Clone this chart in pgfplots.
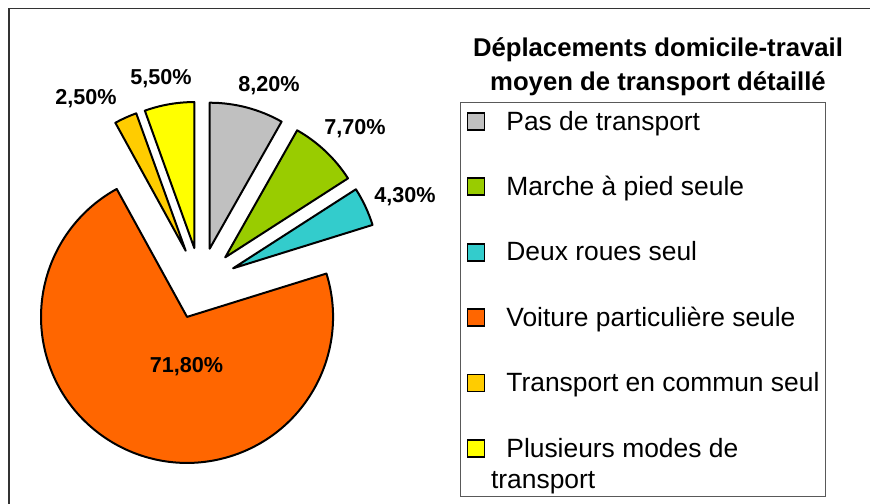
\documentclass[border=0pt]{standalone}
\usepackage{fontspec}
\setmainfont{Liberation Sans}
\usepackage{pgfplots}
\usepackage{pgfplotstable}
\pgfplotsset{compat=1.18}
\definecolor{cGray}{HTML}{C0C0C0}
\definecolor{cGreen}{HTML}{99CC00}
\definecolor{cCyan}{HTML}{33CCCC}
\definecolor{cOrange}{HTML}{FF6600}
\definecolor{cGold}{HTML}{FFCC00}
\definecolor{cYellow}{HTML}{FFFF00}
\newcommand\lblfont{\fontsize{10.8bp}{12bp}\selectfont\bfseries}
\newcommand\legfont{\fontsize{13.2bp}{15bp}\selectfont}
\newcommand\ttlfont{\fontsize{12.85bp}{15bp}\selectfont\bfseries}

% value in percent; lx, ly = label anchor (base) in pixel coordinates
\pgfplotstableread[col sep=semicolon]{
name;value;col;lx;ly
Pas de transport;8.2;cGray;269;91.5
Marche à pied seule;7.7;cGreen;355;134.5
Deux roues seul;4.3;cCyan;405;202.5
Voiture particulière seule;71.8;cOrange;186.5;372.5
Transport en commun seul;2.5;cGold;86;104.5
Plusieurs modes de transport;5.5;cYellow;161;84.5
}\piedata

\begin{document}
\begin{tikzpicture}
\useasboundingbox (0,0) rectangle (435bp,252bp);
\xdef\cum{90}
\foreach \i in {0,...,5}{%
  \pgfplotstablegetelem{\i}{value}\of\piedata
  \let\tmpval\pgfplotsretval
  \pgfmathsetmacro\tmpsw{\tmpval*3.6}
  \pgfmathsetmacro\tmpend{\cum-\tmpsw}
  \pgfmathsetmacro\tmpmid{\cum-\tmpsw/2}
  \expandafter\xdef\csname pieS\i\endcsname{\cum}
  \expandafter\xdef\csname pieE\i\endcsname{\tmpend}
  \expandafter\xdef\csname pieM\i\endcsname{\tmpmid}
  \expandafter\xdef\csname pieV\i\endcsname{\tmpval}
  \pgfplotstablegetelem{\i}{col}\of\piedata
  \expandafter\xdef\csname pieC\i\endcsname{\pgfplotsretval}
  \pgfplotstablegetelem{\i}{lx}\of\piedata
  \expandafter\xdef\csname pieX\i\endcsname{\pgfplotsretval}
  \pgfplotstablegetelem{\i}{ly}\of\piedata
  \expandafter\xdef\csname pieY\i\endcsname{\pgfplotsretval}
  \xdef\cum{\tmpend}
}
\begin{axis}[x=0.5bp, y=0.5bp, xmin=0, xmax=870, ymin=0, ymax=504,
  y dir=reverse, hide axis, clip=false, at={(0,0)}, anchor=south west]
% outer frame
\draw[line width=0.6bp, black!80] (axis cs:9,1400) -- (axis cs:9,8.3) -- (axis cs:1400,8.3);
% title
\node[font=\ttlfont, anchor=base] at (axis cs:658,56.5) {Déplacements domicile-travail};
\node[font=\ttlfont, anchor=base] at (axis cs:658,90) {moyen de transport détaillé};
% legend box
\draw[line width=0.5bp, black!65, fill=white] (axis cs:461,102.7) rectangle (axis cs:826,496.7);
% legend entries
\filldraw[fill=cGray, draw=black, line width=0.9bp] (axis cs:467.5,112.8) rectangle (axis cs:484.5,129.8);
\node[font=\legfont, anchor=base west, inner sep=0pt] at (axis cs:506,130) {Pas de transport};
\filldraw[fill=cGreen, draw=black, line width=0.9bp] (axis cs:467.5,178.2) rectangle (axis cs:484.5,195.2);
\node[font=\legfont, anchor=base west, inner sep=0pt] at (axis cs:506,195.4) {Marche à pied seule};
\filldraw[fill=cCyan, draw=black, line width=0.9bp] (axis cs:467.5,243.6) rectangle (axis cs:484.5,260.6);
\node[font=\legfont, anchor=base west, inner sep=0pt] at (axis cs:506,260.8) {Deux roues seul};
\filldraw[fill=cOrange, draw=black, line width=0.9bp] (axis cs:467.5,309.0) rectangle (axis cs:484.5,326.0);
\node[font=\legfont, anchor=base west, inner sep=0pt] at (axis cs:506,326.2) {Voiture particulière seule};
\filldraw[fill=cGold, draw=black, line width=0.9bp] (axis cs:467.5,374.4) rectangle (axis cs:484.5,391.4);
\node[font=\legfont, anchor=base west, inner sep=0pt] at (axis cs:506,391.6) {Transport en commun seul};
\filldraw[fill=cYellow, draw=black, line width=0.9bp] (axis cs:467.5,439.8) rectangle (axis cs:484.5,456.8);
\node[font=\legfont, anchor=base west, inner sep=0pt] at (axis cs:506,457) {Plusieurs modes de};
\node[font=\legfont, anchor=base west, inner sep=0pt] at (axis cs:490.7,488) {transport};
% exploded pie slices, computed from the table values
\pgfplotsinvokeforeach{0,...,5}{%
  \edef\tmpslice{\noexpand\filldraw[fill=\csname pieC#1\endcsname, draw=black, line width=1bp, line join=round]
    (axis cs:200.5,283.5) ++(\csname pieM#1\endcsname:18bp) -- ++(\csname pieS#1\endcsname:73bp)
    arc[start angle=\csname pieS#1\endcsname, end angle=\csname pieE#1\endcsname, radius=73bp] -- cycle;}%
  \tmpslice
  \edef\tmplabel{\noexpand\node[font=\noexpand\lblfont, anchor=base, inner sep=0pt]
    at (axis cs:\csname pieX#1\endcsname,\csname pieY#1\endcsname)
    {\noexpand\pgfmathprintnumber[fixed,fixed zerofill,precision=2,use comma,assume math mode=true]{\csname pieV#1\endcsname}\noexpand\%};}%
  \tmplabel
}
\end{axis}
\end{tikzpicture}
\end{document}
